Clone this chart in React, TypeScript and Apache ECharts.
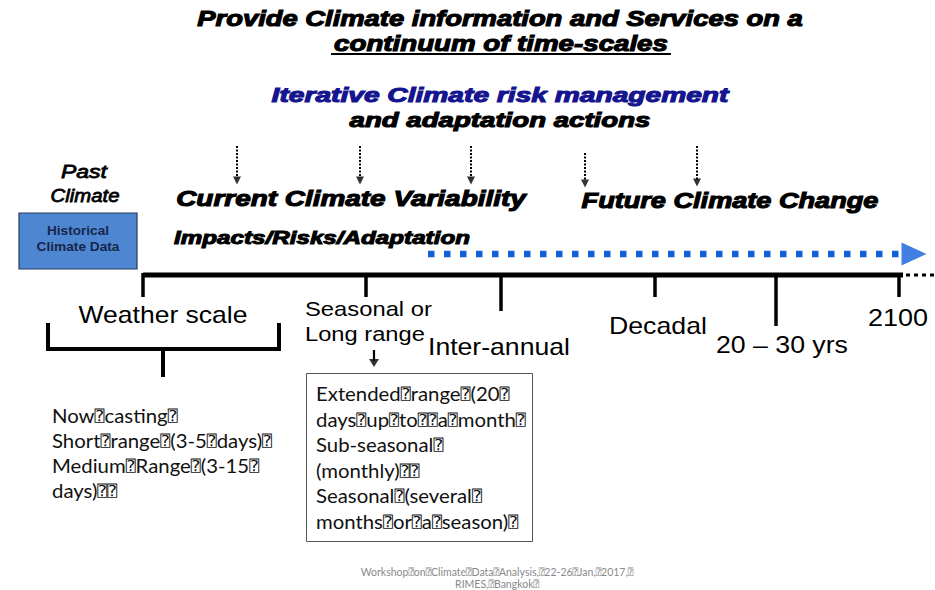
import React, { useEffect, useRef } from "react";
import * as echarts from "echarts";

// ---------------- data ----------------
const titleLines = ["Provide Climate information and Services on a", "continuum of time-scales"];
const subtitleLines = ["Iterative Climate risk management", "and adaptation actions"];
const pastLabel = ["Past", "Climate"];
const historicalLabel = ["Historical", "Climate Data"];
const phaseLabels = ["Current Climate Variability", "Future Climate Change"];
const impactsLabel = "Impacts/Risks/Adaptation";
// positions of the iterative feedback arrows along the horizontal scale
const feedbackArrowPositions = [237, 360, 471, 585, 697];
// positions of the ticks on the time-scale line
const timelineTicks = [143, 366, 501, 655, 776, 899];
const scaleLabels = ["Weather scale", "Seasonal or", "Long range", "Inter-annual", "Decadal", "20 – 30 yrs", "2100"];
const weatherItems = ["Now⍰casting⍰", "Short⍰range⍰(3-5⍰days)⍰", "Medium⍰Range⍰(3-15⍰", "days)⍰⍰"];
const seasonalItems = [
  "Extended⍰range⍰(20⍰",
  "days⍰up⍰to⍰⍰a⍰month⍰",
  "Sub-seasonal⍰",
  "(monthly)⍰⍰",
  "Seasonal⍰(several⍰",
  "months⍰or⍰a⍰season)⍰",
];
const footerLines = ["Workshop⍰on⍰Climate⍰Data⍰Analysis,⍰22-26⍰Jan,⍰2017,⍰", "RIMES,⍰Bangkok⍰"];

// ---------------- layout ----------------
const W = 935;
const H = 590;
const ARIAL = "'Liberation Sans', Arial, sans-serif";
const CALIBRI = "Lato, 'Open Sans', sans-serif";
const BLUE = "#1160d8";
const NAVY = "#15158f";

let measureCtx: CanvasRenderingContext2D | null = null;
function measure(text: string, font: string) {
  if (!measureCtx) measureCtx = document.createElement("canvas").getContext("2d");
  measureCtx!.font = font;
  return measureCtx!.measureText(text).width;
}

type TOpts = {
  size: number;
  weight?: string;
  style?: string;
  family?: string;
  color?: string;
  width?: number;
  align?: "left" | "center" | "right";
  thick?: number;
};

function txt(text: string, x: number, y: number, o: TOpts) {
  const font = `${o.style || "normal"} ${o.weight || "normal"} ${o.size}px ${o.family || ARIAL}`;
  const scaleX = o.width ? o.width / measure(text, font) : 1;
  const color = o.color || "#000";
  const align = o.align || "center";
  const style: any = {
    text,
    font,
    fill: color,
    textAlign: align,
    align,
    textVerticalAlign: "middle",
    verticalAlign: "middle",
  };
  if (o.thick) {
    style.stroke = color;
    style.lineWidth = o.thick;
  }
  return { type: "text", x, y, scaleX, silent: true, style };
}

function richTxt(
  text: string,
  x: number,
  y: number,
  size: number,
  family: string,
  color: string,
  boxSize: number,
  align = "left",
  scaleX = 1
) {
  return {
    type: "text",
    x,
    y,
    scaleX,
    silent: true,
    style: {
      text: text.replace(/⍰/g, "{q|⍰}"),
      font: `normal normal ${size}px ${family}`,
      fill: color,
      textAlign: align,
      align,
      textVerticalAlign: "middle",
      verticalAlign: "middle",
      rich: {
        q: { fontSize: boxSize, fontFamily: "'DejaVu Sans Mono', 'DejaVu Sans'", fill: color, color },
      },
    },
  };
}

function seg(points: number[][], width: number, color = "#000", type: any = "solid", cap = "butt") {
  return {
    type: "line",
    data: points,
    symbol: "none",
    silent: true,
    clip: false,
    animation: false,
    lineStyle: { width, color, type, cap, join: "miter" },
  };
}

function tri(x: number, y: number, size: number[], rotate: number, color = "#000") {
  return {
    type: "scatter",
    data: [[x, y]],
    symbol: "triangle",
    symbolSize: size,
    symbolRotate: rotate,
    silent: true,
    clip: false,
    itemStyle: { color },
  };
}

export default function App() {
  const ref = useRef<HTMLDivElement>(null);
  useEffect(() => {
    document.body.style.margin = "0";
    const chart = echarts.init(ref.current!, null, { renderer: "svg" });

    const LINE_Y = 275;
    const tickLen = [22, 22, 36, 22, 51, 22];
    const series: any[] = [];

    // main time-scale line and its dotted continuation
    series.push(seg([[timelineTicks[0], LINE_Y], [903, LINE_Y]], 5));
    series.push(seg([[906, LINE_Y], [935, LINE_Y]], 3, "#000", [4, 4]));
    timelineTicks.forEach((t, i) => series.push(seg([[t, LINE_Y - 2], [t, LINE_Y + tickLen[i]]], 3.5)));

    // weather scale bracket
    series.push(seg([[48, 323], [48, 349], [279, 349], [279, 323]], 4));
    series.push(seg([[163, 349], [163, 377]], 4));

    // feedback arrows (dotted)
    const arrowTop = [146, 146, 146, 153, 146];
    const arrowBottom = [184, 184, 184, 187, 186];
    feedbackArrowPositions.forEach((p, i) => {
      series.push(seg([[p, arrowTop[i]], [p, arrowBottom[i] - 6]], 2, "#000", [2, 1.5]));
      series.push(tri(p, arrowBottom[i] - 3.5, [8, 8], 180));
    });

    // blue dotted arrow toward the future
    series.push(seg([[428, 254], [903, 254]], 6.5, BLUE, [6.5, 9.5]));
    series.push(tri(914, 254, [23, 25], -90, BLUE));

    // small down arrow under "Long range"
    series.push(seg([[374, 350], [374, 361]], 2.2));
    series.push(tri(374, 363, [10, 8], 180));

    const graphic: any[] = [
      txt(titleLines[0], 500, 18, { size: 22, weight: "bold", style: "italic", width: 606, thick: 1.1 }),
      txt(titleLines[1], 501, 43, { size: 22, weight: "bold", style: "italic", width: 334, thick: 1.1 }),
      { type: "line", silent: true, shape: { x1: 331, y1: 54, x2: 671, y2: 54 }, style: { stroke: "#000", lineWidth: 2 } },
      txt(subtitleLines[0], 500, 95, { size: 21, weight: "bold", style: "italic", width: 457, color: NAVY, thick: 1.1 }),
      txt(subtitleLines[1], 500, 120, { size: 21, weight: "bold", style: "italic", width: 301, thick: 1.1 }),

      txt(pastLabel[0], 84, 171, { size: 19, style: "italic", width: 46, thick: 0.8 }),
      txt(pastLabel[1], 85, 195, { size: 19, style: "italic", width: 69, thick: 0.8 }),

      {
        type: "rect",
        silent: true,
        shape: { x: 19, y: 213, width: 118, height: 56 },
        style: { fill: "#4f86d2", stroke: "#263a5e", lineWidth: 1.2 },
      },
      txt(historicalLabel[0], 78, 231, { size: 13.5, weight: "bold", width: 62, color: "#16264a" }),
      txt(historicalLabel[1], 78, 247, { size: 13.5, weight: "bold", width: 83, color: "#16264a" }),

      txt(phaseLabels[0], 351, 198, { size: 22, weight: "bold", style: "italic", width: 350, thick: 1.1 }),
      txt(phaseLabels[1], 730, 200, { size: 22, weight: "bold", style: "italic", width: 297, thick: 1.1 }),
      txt(impactsLabel, 322, 238, { size: 18, weight: "bold", style: "italic", width: 296, thick: 1.0 }),

      txt(scaleLabels[0], 163, 314, { size: 24, width: 169 }),
      txt(scaleLabels[1], 305, 309, { size: 21, width: 127, align: "left" }),
      txt(scaleLabels[2], 305, 334, { size: 21, width: 120, align: "left" }),
      txt(scaleLabels[3], 428, 347, { size: 23, width: 142, align: "left" }),
      txt(scaleLabels[4], 609, 326, { size: 23, width: 98, align: "left" }),
      txt(scaleLabels[5], 716, 345, { size: 23, width: 132, align: "left" }),
      txt(scaleLabels[6], 868, 318, { size: 23, width: 60, align: "left" }),

      {
        type: "rect",
        silent: true,
        shape: { x: 306.5, y: 373.5, width: 226, height: 168 },
        style: { fill: "none", stroke: "#555", lineWidth: 1 },
      },
    ];

    weatherItems.forEach((t, i) =>
      graphic.push(richTxt(t, 52, 416 + i * 25, 18.5, CALIBRI, "#111", 15, "left", 1.1))
    );
    seasonalItems.forEach((t, i) =>
      graphic.push(richTxt(t, 316, 394 + i * 25.5, 18.5, CALIBRI, "#111", 15, "left", 1.1))
    );
    footerLines.forEach((t, i) =>
      graphic.push(richTxt(t, 497, 572 + i * 11.5, 10.5, CALIBRI, "#8a8a8a", 9, "center"))
    );

    chart.setOption({
      animation: false,
      backgroundColor: "#fff",
      grid: { left: 0, right: 0, top: 0, bottom: 0 },
      xAxis: { type: "value", min: 0, max: W, show: false },
      yAxis: { type: "value", min: 0, max: H, inverse: true, show: false },
      series,
      graphic,
    });
    return () => chart.dispose();
  }, []);
  return <div ref={ref} style={{ width: W, height: H }} />;
}
